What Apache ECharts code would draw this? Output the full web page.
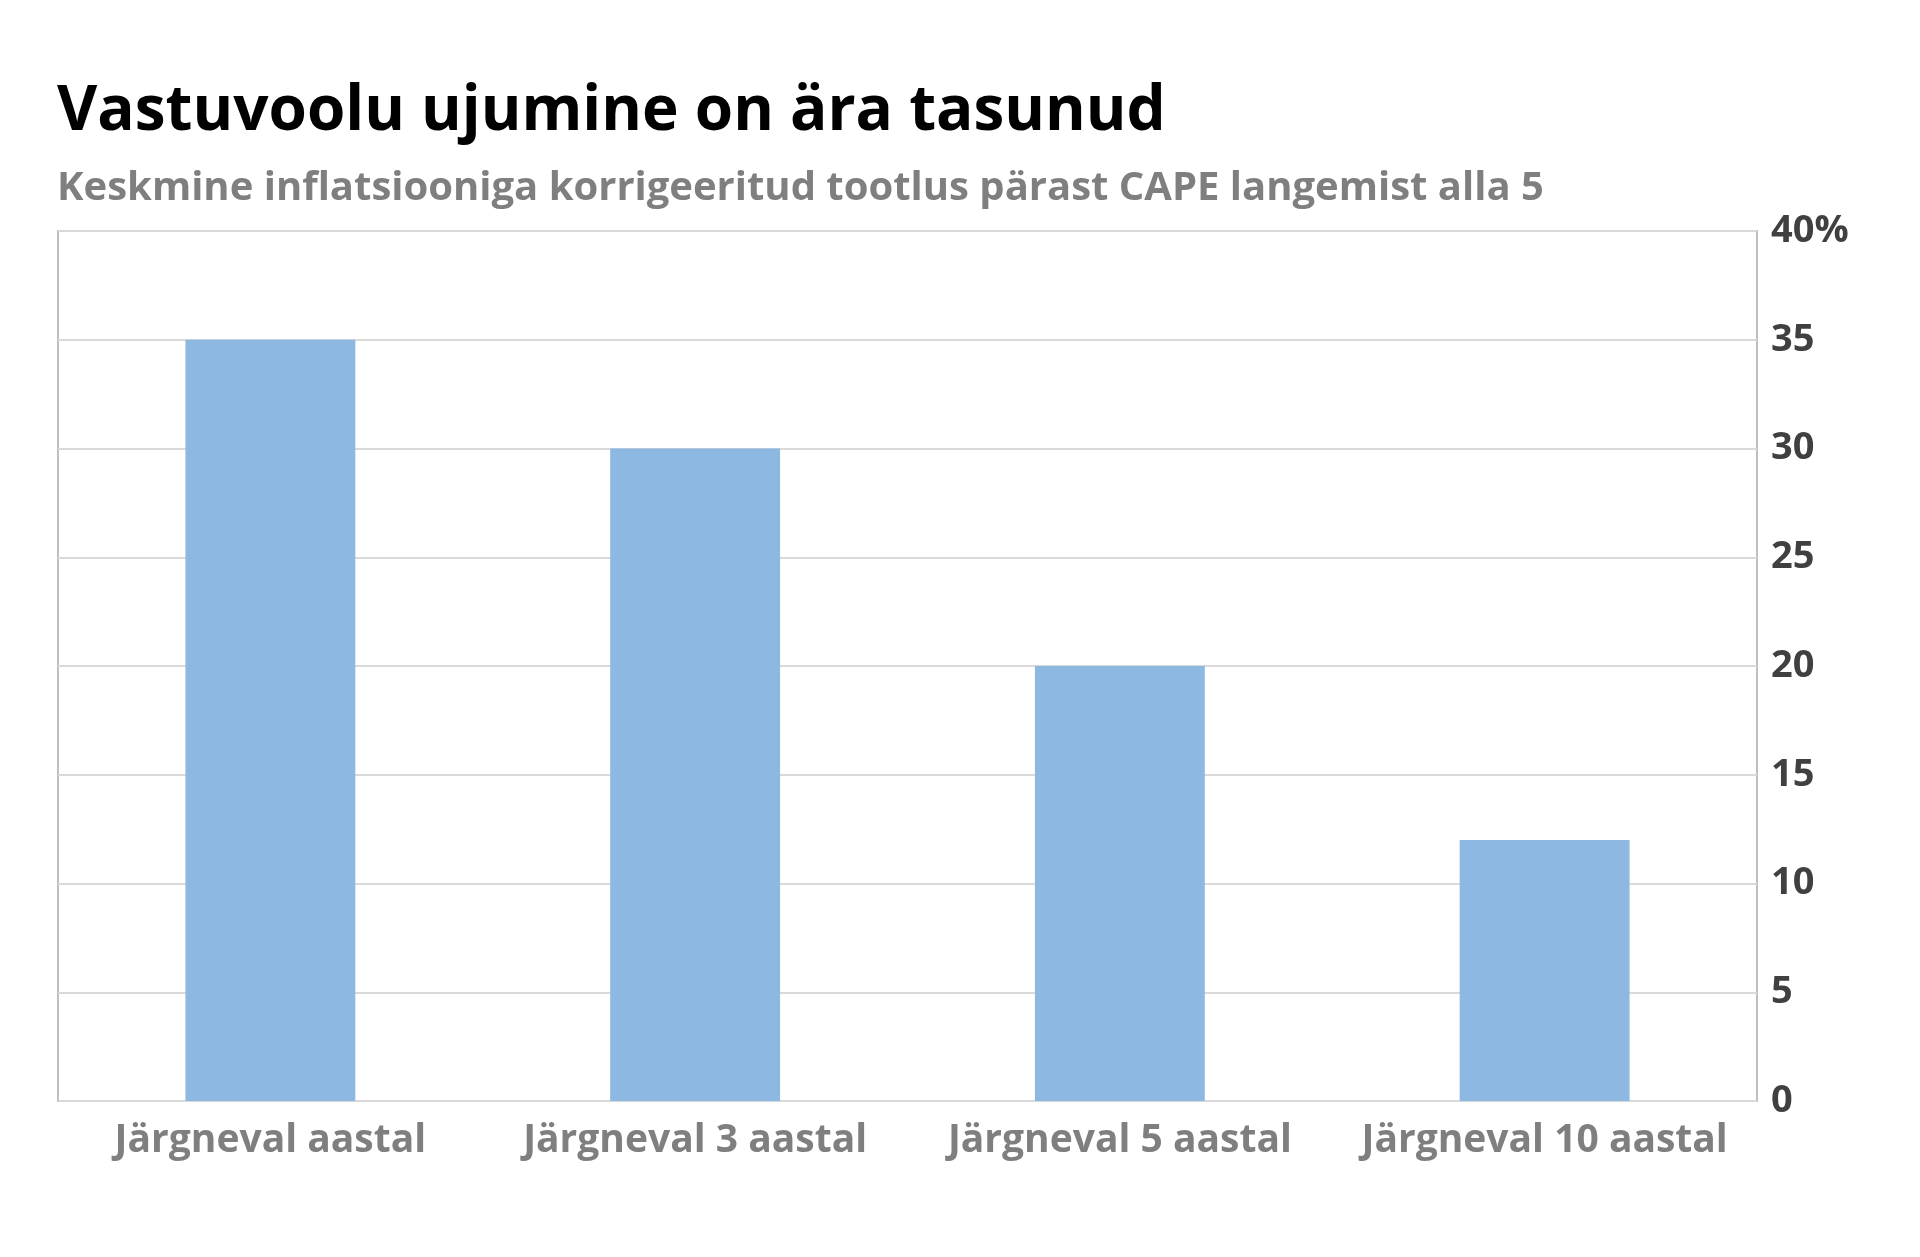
<!DOCTYPE html>
<html><head><meta charset="utf-8">
<style>html,body{margin:0;padding:0;background:#fff}#c{width:1920px;height:1257px}</style>
<script src="https://cdn.jsdelivr.net/npm/echarts@6/dist/echarts.min.js"></script>
</head><body><div id="c"></div>
<script>
const categories = ['Järgneval aastal', 'Järgneval 3 aastal', 'Järgneval 5 aastal', 'Järgneval 10 aastal']
const returns = [35, 30, 20, 12]
const font = '"Open Sans", "Noto Sans", sans-serif'

const chart = echarts.init(document.getElementById('c'))
chart.setOption({
  title: {
    text: 'Vastuvoolu ujumine on ära tasunud',
    subtext: 'Keskmine inflatsiooniga korrigeeritud tootlus pärast CAPE langemist alla 5',
    left: 52, top: 76, itemGap: 26,
    textStyle: { fontFamily: font, fontSize: 62, fontWeight: 'bold', color: '#000' },
    subtextStyle: { fontFamily: font, fontSize: 40, fontWeight: 'bold', color: '#7f7f7f' }
  },
  grid: { left: 58, right: 163, top: 231, bottom: 156, show: true, borderColor: '#bfbfbf', borderWidth: 2 },
  xAxis: {
    type: 'category', data: categories,
    axisLine: { show: false }, axisTick: { show: false },
    axisLabel: { fontFamily: font, fontSize: 39, fontWeight: 'bold', color: '#7f7f7f', margin: 20, interval: 0 }
  },
  yAxis: {
    type: 'value', position: 'right', min: 0, max: 40, interval: 5,
    axisLine: { show: false }, axisTick: { show: false },
    splitLine: { lineStyle: { color: '#d9d9d9', width: 2 } },
    axisLabel: { fontFamily: font, fontSize: 38, fontWeight: 'bold', color: '#404040', margin: 14,
      formatter: v => v === 40 ? '40%' : String(v) }
  },
  series: [{ type: 'bar', data: returns, barWidth: '40%', itemStyle: { color: '#8db8e2' } }]
})
</script></body></html>
